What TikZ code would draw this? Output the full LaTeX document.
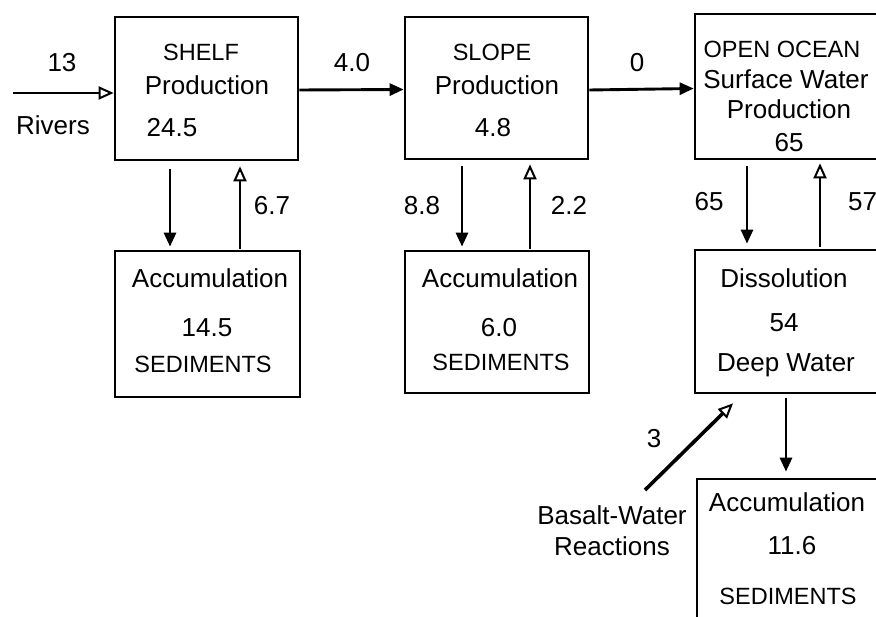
\documentclass[tikz,border=0pt]{standalone}
\usepackage{fontspec}
\setmainfont{Liberation Sans}
\usetikzlibrary{arrows.meta, positioning, calc}

\tikzset{
  box/.style={draw, line width=2.7pt, inner sep=0pt},
  lbl/.style={inner sep=0pt, font=\fontsize{26}{30}\selectfont, text height=19pt, text depth=0pt},
  caps/.style={inner sep=0pt, font=\fontsize{23.5}{27}\selectfont, text height=17pt, text depth=0pt},
  flow/.style={-{Triangle[length=14pt, width=12pt]}, line width=2.9pt},
  gain/.style={-{Triangle[open, length=15pt, width=13pt, line width=2pt]}, line width=2.9pt},
}

\begin{document}
\begin{tikzpicture}[x=1pt, y=-1pt]
        \useasboundingbox (0,0) rectangle (876,617);
        % Reservoirs
        \node[box, minimum width=183pt, minimum height=143pt] (shelf) at (206.5,88.5) {};
        \node[box, minimum width=183pt, minimum height=142pt] (slope) at (496.5,88) {};
        \node[box, minimum width=200pt, minimum height=145pt] (ocean) at (795,86.5) {};
        \node[box, minimum width=185pt, minimum height=146pt] (shelfacc) at (207.5,324) {};
        \node[box, minimum width=184pt, minimum height=142pt] (slopeacc) at (497,322) {};
        \node[box, minimum width=200pt, minimum height=143pt] (deep) at (795,321.5) {};
        \node[box, minimum width=200pt, minimum height=161pt] (deepacc) at (797,559.5) {};
        % Box texts
        \node[caps] (shelfname) at (201,52) {SHELF};
        \node[lbl] (shelfprod) at (207,85) {Production};
        \node[lbl] (shelfval) at (172,127) {24.5};
        \node[caps] (slopename) at (492,52) {SLOPE};
        \node[lbl] (slopeprod) at (497,85) {Production};
        \node[lbl] (slopeval) at (493,127) {4.8};
        \node[caps] (oceanname) at (782,49) {OPEN OCEAN};
        \node[lbl] (oceansurf) at (786,79) {Surface Water};
        \node[lbl] (oceanprod) at (789,109) {Production};
        \node[lbl] (oceanval) at (789,142) {65};
        \node[lbl] (shelfacctitle) at (210,278) {Accumulation};
        \node[lbl] (shelfaccval) at (207,327) {14.5};
        \node[caps] (shelfaccsed) at (203,364) {SEDIMENTS};
        \node[lbl] (slopeacctitle) at (500,278) {Accumulation};
        \node[lbl] (slopeaccval) at (499,327) {6.0};
        \node[caps] (slopeaccsed) at (501,362) {SEDIMENTS};
        \node[lbl] (deeptitle) at (784,278) {Dissolution};
        \node[lbl] (deepval) at (784,322) {54};
        \node[lbl] (deepname) at (786,362) {Deep Water};
        \node[lbl] (deepacctitle) at (787,502) {Accumulation};
        \node[lbl] (deepaccval) at (792,545) {11.6};
        \node[caps] (deepaccsed) at (788,596) {SEDIMENTS};
        % Fluxes
        \coordinate (rivsrc) at (13,93);
        \draw[gain] (rivsrc) -- (rivsrc -| shelf.west);
        \draw[flow] ([yshift=-1.5pt]shelf.east) -- ([yshift=-1.5pt]slope.west);
        \draw[flow] ([yshift=-2pt]slope.east) -- ([yshift=-2pt]ocean.west);
        \draw[flow, shorten <=8pt, shorten >=3pt] ([xshift=-36.5pt]shelf.south) -- ([xshift=-36.5pt]shelf.south |- shelfacc.north);
        \draw[gain, shorten <=1pt, shorten >=5pt] ([xshift=32.5pt]shelfacc.north) -- ([xshift=32.5pt]shelfacc.north |- shelf.south);
        \draw[flow, shorten <=6pt, shorten >=3pt] ([xshift=-34.5pt]slope.south) -- ([xshift=-34.5pt]slope.south |- slopeacc.north);
        \draw[gain, shorten <=1pt, shorten >=4pt] ([xshift=33pt]slopeacc.north) -- ([xshift=33pt]slopeacc.north |- slope.south);
        \draw[flow, shorten <=6pt, shorten >=5pt] ([xshift=-48pt]ocean.south) -- ([xshift=-48pt]ocean.south |- deep.north);
        \draw[gain, shorten <=2pt, shorten >=3pt] ([xshift=25pt]deep.north) -- ([xshift=25pt]deep.north |- ocean.south);
        \draw[flow, shorten <=4pt, shorten >=6pt] ([xshift=-9pt]deep.south) -- ([xshift=-9pt]deep.south |- deepacc.north);
        \coordinate (basalt) at (645,490);
        \draw[gain, line width=3.6pt] (basalt) -- ([xshift=-62pt, yshift=-9pt]deep.south);
        % Flux labels
        \node[lbl] (f13) at (62,62) {13};
        \node[lbl] (rivers) at (53,125) {Rivers};
        \node[lbl] (f40) at (352,62) {4.0};
        \node[lbl] (f0) at (637,62) {0};
        \node[lbl] (f67) at (272,205) {6.7};
        \node[lbl] (f88) at (422,205) {8.8};
        \node[lbl] (f22) at (569,205) {2.2};
        \node[lbl] (f65) at (709,201) {65};
        \node[lbl, anchor=west] (f57) at (848,201) {57};
        \node[lbl] (f3) at (654,438) {3};
        \node[lbl] (basaltA) at (612,515) {Basalt-Water};
        \node[lbl] (basaltB) at (612,546) {Reactions};
\end{tikzpicture}
\end{document}
